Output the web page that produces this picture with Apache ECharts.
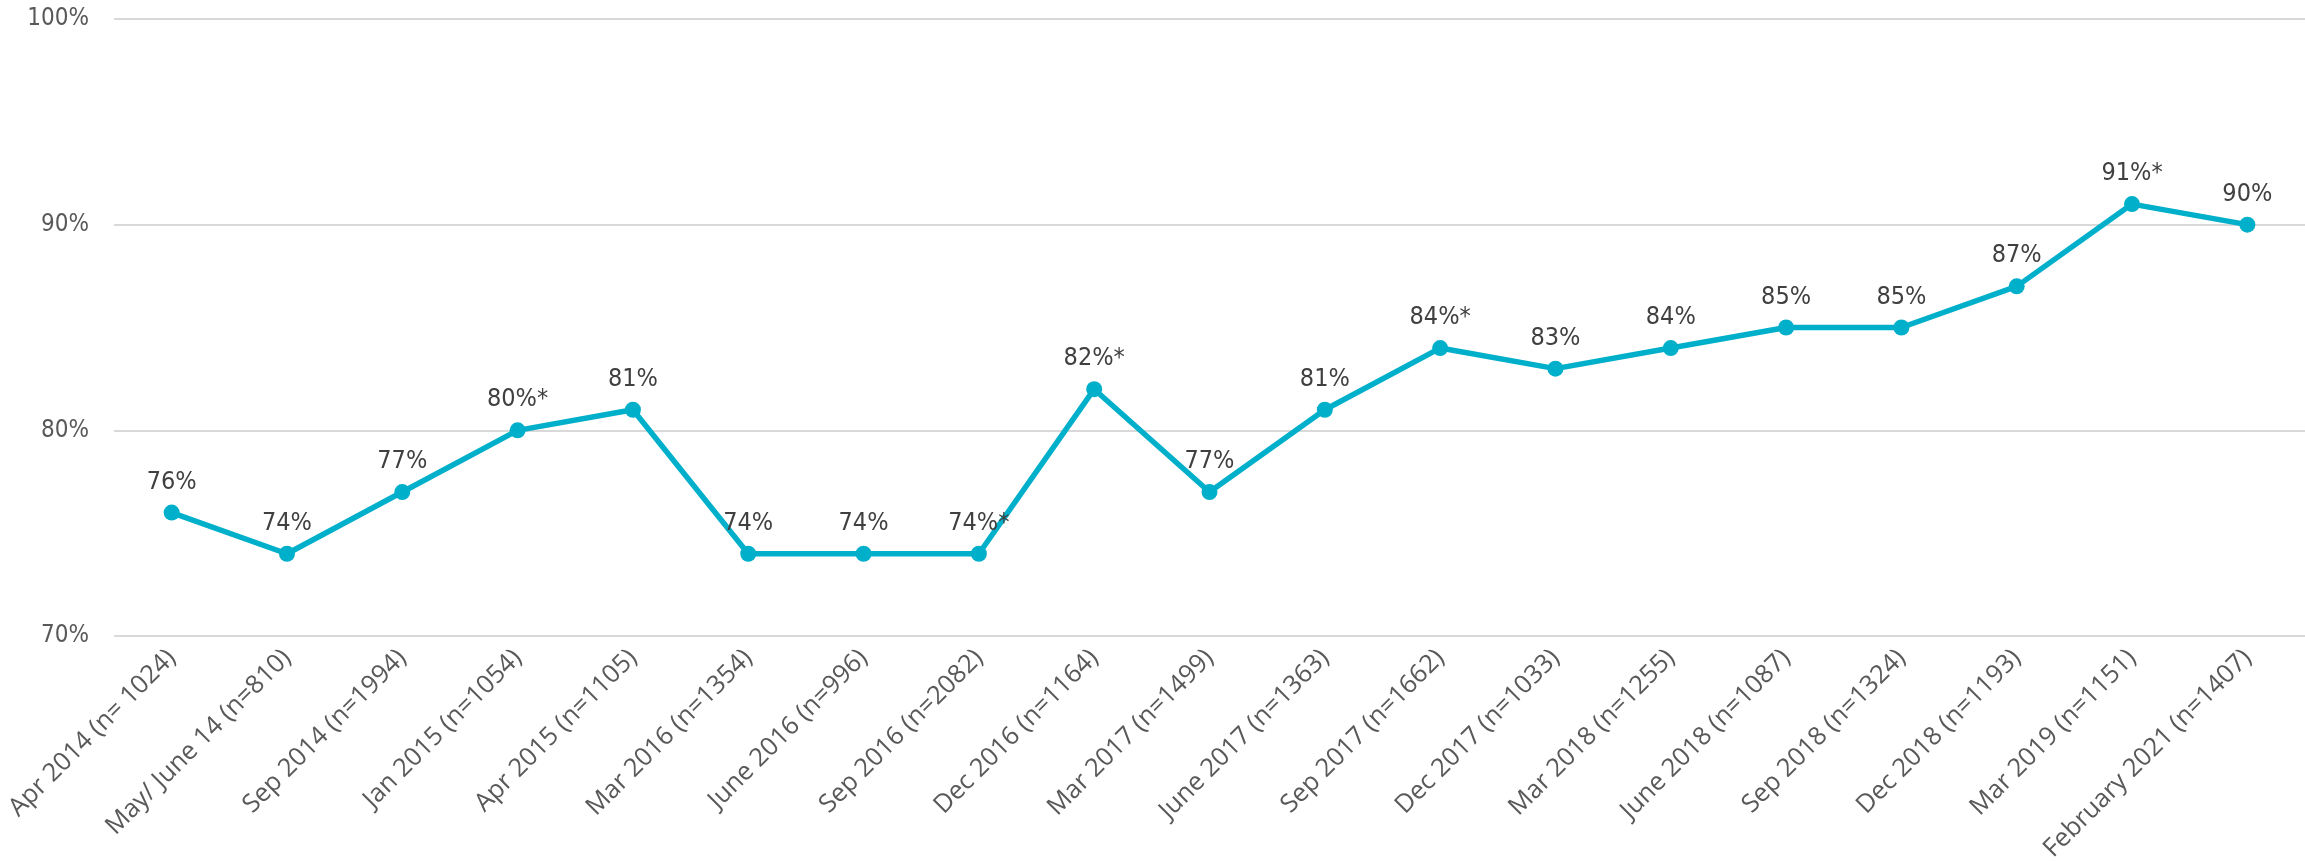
<!DOCTYPE html>
<html>
<head>
<meta charset="utf-8">
<script src="https://cdn.jsdelivr.net/npm/echarts@6/dist/echarts.min.js"></script>
<style>
  html, body { margin: 0; padding: 0; background: #fff; }
  #main { width: 2305px; height: 861px; }
</style>
</head>
<body>
<div id="main"></div>
<script>
// survey waves (x axis)
const categories = [
  "Apr 2014 (n= 1024)", "May/ June 14 (n=810)", "Sep 2014 (n=1994)",
  "Jan 2015 (n=1054)", "Apr 2015 (n=1105)", "Mar 2016 (n=1354)",
  "June 2016 (n=996)", "Sep 2016 (n=2082)", "Dec 2016 (n=1164)",
  "Mar 2017 (n=1499)", "June 2017 (n=1363)", "Sep 2017 (n=1662)",
  "Dec 2017 (n=1033)", "Mar 2018 (n=1255)", "June 2018 (n=1087)",
  "Sep 2018 (n=1324)", "Dec 2018 (n=1193)", "Mar 2019 (n=1151)",
  "February 2021 (n=1407)"
];
// percentage values
const values = [76, 74, 77, 80, 81, 74, 74, 74, 82, 77, 81, 84, 83, 84, 85, 85, 87, 91, 90];
// 1 = significant change, label gets an asterisk
const starred = [0, 0, 0, 1, 0, 0, 0, 1, 1, 0, 0, 1, 0, 0, 0, 0, 0, 1, 0];
// y axis ticks
const yTicks = [70, 80, 90, 100];

const narrow = "'DejaVu Sans Condensed', 'Liberation Sans', sans-serif";

const chart = echarts.init(document.getElementById('main'));
chart.setOption({
  animation: false,
  grid: { left: 114, right: 0, top: 19, bottom: 225, containLabel: false, outerBoundsMode: 'none' },
  xAxis: {
    type: 'category',
    data: categories,
    boundaryGap: true,
    axisLine: { show: false },
    axisTick: { show: false },
    axisLabel: {
      rotate: 45,
      interval: 0,
      margin: 18,
      color: '#595959',
      fontSize: 25.5,
      fontFamily: "'Open Sans', sans-serif"
    }
  },
  yAxis: {
    type: 'value',
    min: yTicks[0],
    max: yTicks[yTicks.length - 1],
    interval: yTicks[1] - yTicks[0],
    axisLine: { show: false },
    axisTick: { show: false },
    splitLine: { lineStyle: { color: '#d9d9d9', width: 2 } },
    axisLabel: {
      formatter: '{value}%',
      margin: 25,
      color: '#595959',
      fontSize: 24,
      fontFamily: narrow
    }
  },
  series: [{
    type: 'line',
    data: values,
    color: '#00b0ca',
    symbol: 'circle',
    symbolSize: 16,
    lineStyle: { width: 5.5 },
    label: {
      show: true,
      position: 'top',
      distance: 10,
      color: '#404040',
      fontSize: 25,
      fontFamily: narrow,
      formatter: p => p.value + '%' + (starred[p.dataIndex] ? '*' : '')
    }
  }]
});
</script>
</body>
</html>
